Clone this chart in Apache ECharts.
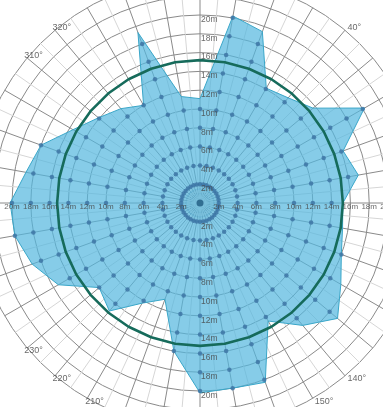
<!DOCTYPE html>
<html><head><meta charset="utf-8">
<script src="https://cdn.jsdelivr.net/npm/echarts@6/dist/echarts.min.js"></script>
<style>html,body{margin:0;padding:0;background:#fff}#c{width:383px;height:407px}</style>
</head><body><div id="c"></div>
<script>
// Directions (degrees, clockwise from north) and measured ranges (m)
const directions = [0,10,20,30,40,50,60,70,80,90,100,110,120,130,140,150,160,170,180,190,200,210,220,230,240,250,260,270,280,290,300,310,320,330,340,350];
const ranges = [11.1,20.2,19.4,14.1,14.6,15.7,20.2,16.2,17.1,15.2,15.4,16.0,17.3,19.1,17.0,14.5,20.3,20.0,20.2,16.0,10.9,12.3,15.0,14.0,17.4,19.0,20.0,20.2,18.8,18.0,15.6,14.1,13.1,12.0,19.3,11.5];
const radiusTicks = [2,4,6,8,10,12,14,16,18,20];
const radiusTickLabels = ['2m','4m','6m','8m','10m','12m','14m','16m','18m','20m'];
const angleLabelsShown = [40,140,150,210,220,230,310,320];
const limitRadius = 15.2;
const verticalLabelAngles = [0,180];
const horizontalLabelAngles = [90,270];

const FONT = "'Liberation Sans', sans-serif";
const pxPerM = 9.4;
const cx = 200, cy = 203;
const angleLabelRadius = 24.4;

const polygonData = directions.map((d,i)=>[ranges[i], d]);
polygonData.push([ranges[0], 360]);
const limitData = directions.map(d=>[limitRadius, d]);
limitData.push([limitRadius, 360]);
const dotData = [];
directions.forEach((d,i)=>{ radiusTicks.forEach(r=>{ if (r <= ranges[i]) dotData.push([r, d]); }); });
const vLabelData = [], hLabelData = [];
verticalLabelAngles.forEach(a=>radiusTicks.forEach((r,k)=>vLabelData.push({value:[r,a], name:radiusTickLabels[k]})));
horizontalLabelAngles.forEach(a=>radiusTicks.forEach((r,k)=>hLabelData.push({value:[r,a], name:radiusTickLabels[k]})));
const angleLabelData = angleLabelsShown.map(a=>({value:[angleLabelRadius, a], name:a+'°'}));

const chart = echarts.init(document.getElementById('c'), null, {renderer:'canvas'});
chart.setOption({
  animation:false,
  backgroundColor:'#fff',
  polar:[
    {center:[cx,cy], radius:24*pxPerM},
    {center:[cx,cy], radius:2*pxPerM}
  ],
  angleAxis:[
    {polarIndex:0, type:'value', min:0, max:360, interval:5, startAngle:90, clockwise:true,
      axisLine:{show:false}, axisTick:{show:false}, axisLabel:{show:false},
      splitLine:{show:true, lineStyle:{color:['#8a8a8a','#d6d6d6'], width:1}}},
    {polarIndex:1, type:'value', min:0, max:360, interval:10, startAngle:90,
      axisLine:{show:false}, axisTick:{show:false}, axisLabel:{show:false}, splitLine:{show:false}}
  ],
  radiusAxis:[
    {polarIndex:0, type:'value', min:0, max:24, interval:2,
      axisLine:{show:false}, axisTick:{show:false}, axisLabel:{show:false},
      splitLine:{show:true, lineStyle:{color:'#8a8a8a', width:1}}},
    {polarIndex:1, type:'value', min:0, max:2, interval:0.5,
      axisLine:{show:false}, axisTick:{show:false}, axisLabel:{show:false},
      splitLine:{show:true, lineStyle:{color:'#4a86b0', width:1}}}
  ],
  series:[
    {type:'line', coordinateSystem:'polar', polarIndex:0, data:polygonData, symbol:'none', silent:true, z:2,
      lineStyle:{color:'#3aa6c8', width:1}, areaStyle:{color:'#52b6de', opacity:0.7}},
    {type:'scatter', coordinateSystem:'polar', polarIndex:0, data:dotData, symbolSize:4.5, silent:true, z:3,
      itemStyle:{color:'#3b72a3'}},
    {type:'scatter', coordinateSystem:'polar', polarIndex:0, data:[[0,0]], symbolSize:7, silent:true, z:3,
      itemStyle:{color:'#1f5a80'}},
    {type:'line', coordinateSystem:'polar', polarIndex:0, data:limitData, symbol:'none', silent:true, z:4,
      lineStyle:{color:'#166b5b', width:2.6}},
    {type:'scatter', coordinateSystem:'polar', polarIndex:0, data:vLabelData, symbolSize:0, silent:true, z:5,
      label:{show:true, position:[1,0], align:'left', verticalAlign:'top', formatter:p=>p.name, color:'#444', fontSize:8.5, fontFamily:FONT}},
    {type:'scatter', coordinateSystem:'polar', polarIndex:0, data:hLabelData, symbolSize:0, silent:true, z:5,
      label:{show:true, position:[0,0], align:'center', verticalAlign:'top', formatter:p=>p.name, color:'#444', fontSize:8, fontFamily:FONT}},
    {type:'scatter', coordinateSystem:'polar', polarIndex:0, data:angleLabelData, symbolSize:0, silent:true, z:5, clip:false,
      label:{show:true, position:[0,0], align:'left', verticalAlign:'middle', formatter:p=>p.name, color:'#444', fontSize:9, fontFamily:FONT}}
  ]
});
</script></body></html>
